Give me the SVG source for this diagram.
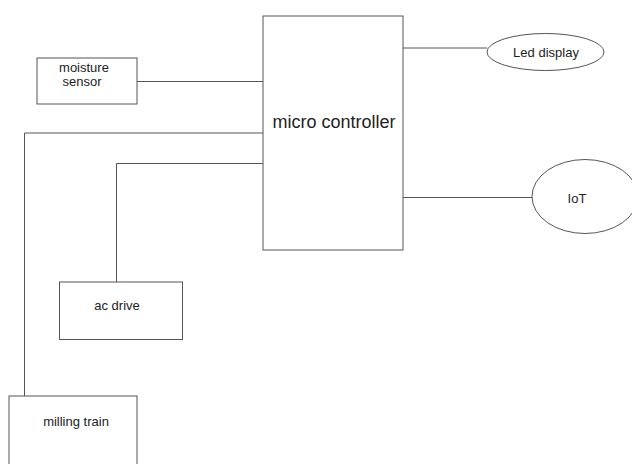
<svg xmlns="http://www.w3.org/2000/svg" width="632" height="464" viewBox="0 0 632 464">
<style>
.box{fill:#fff;stroke:#555;stroke-width:1}
.ln{fill:none;stroke:#555;stroke-width:1}
text{font-family:"Liberation Sans",Arial,sans-serif;fill:#222;text-anchor:middle}
.s{font-size:13px}
.b{font-size:18px}
</style>
<rect width="632" height="464" fill="#fff"/>
<g id="connectors">
<path class="ln" d="M137 81.5H263"/>
<path class="ln" d="M263 133H24.5V396"/>
<path class="ln" d="M263 163.5H116.5V282"/>
<path class="ln" d="M403 48H487"/>
<path class="ln" d="M403 197.5H532"/>
</g>
<g id="microcontroller">
<rect class="box" x="263" y="16" width="140" height="234"/>
<text class="b" x="334" y="128">micro controller</text>
</g>
<g id="moisture">
<rect class="box" x="37" y="58" width="100" height="46"/>
<text class="s" x="84" y="72">moisture</text>
<text class="s" x="82" y="86">sensor</text>
</g>
<g id="acdrive">
<rect class="box" x="59.5" y="282" width="123" height="57.5"/>
<text class="s" x="117" y="310">ac drive</text>
</g>
<g id="milling">
<rect class="box" x="9" y="396" width="128" height="80"/>
<text class="s" x="76" y="426">milling train</text>
</g>
<g id="led">
<ellipse class="box" cx="545.5" cy="52" rx="58.5" ry="18.5"/>
<text class="s" x="546" y="57">Led display</text>
</g>
<g id="iot">
<ellipse class="box" cx="585" cy="196.5" rx="53" ry="37"/>
<text class="s" x="577" y="203">IoT</text>
</g>
</svg>
